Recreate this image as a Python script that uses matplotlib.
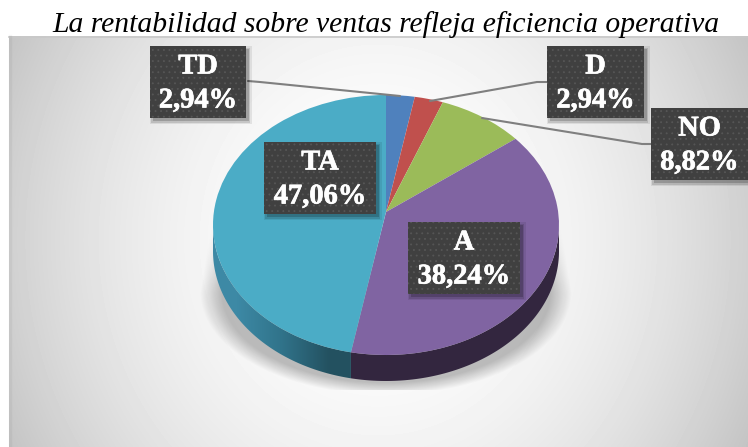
"""Pie chart of profitability answers, redrawn with a tilted 3D look."""
import matplotlib
matplotlib.use("Agg")
import matplotlib.pyplot as plt
import matplotlib.patheffects as pe
import matplotlib.transforms as mtransforms
from matplotlib.patches import Polygon, Rectangle
import numpy as np

title = "La rentabilidad sobre ventas refleja eficiencia operativa"
categories = ["TD", "D", "NO", "A", "TA"]
shares = [2.94, 2.94, 8.82, 38.24, 47.06]
colors = ["#4f81bd", "#c0504d", "#9bbb59", "#8064a2", "#4bacc6"]

# pixel layout of the picture
W, H = 748, 447
CX, CY, RX, RY = 386, 225, 173, 130
DEPTH = 26
TILT = 0.10  # how far the slice apex sits above the ellipse centre
boxes = {"TD": (150, 46, 96, 72), "D": (547, 46, 97, 72), "NO": (651, 108, 97, 72),
         "TA": (264, 142, 112, 72), "A": (408, 222, 112, 72)}
leaders = {"TD": [(248, 81), (260, 82), (400, 96)],
           "D": [(547, 82), (537, 82), (430, 101)],
           "NO": [(651, 144), (642, 144), (482, 118)]}


def tilt_points(pts):
    x, y = pts[:, 0], pts[:, 1]
    den = 1 + TILT * y
    return np.column_stack([x * np.sqrt(1 - TILT ** 2) / den, (y + TILT) / den])


class TiltTransform(mtransforms.Transform):
    """Projective map of the unit circle onto itself, moves the centre up."""
    input_dims = 2
    output_dims = 2

    def transform_non_affine(self, values):
        return tilt_points(np.asarray(values))


fig = plt.figure(figsize=(W / 100, H / 100), dpi=100)
ax = fig.add_axes([0, 0, 1, 1])

# background radial gradient
xx, yy = np.meshgrid(np.arange(9, W) + 0.5, np.arange(36, H) + 0.5)
dist = np.hypot((xx - 378) / 365, (yy - 240) / 400)
bg = 1 - 0.18 * dist ** 2
ax.imshow(bg, extent=(9, W, H, 36), cmap="gray", vmin=0, vmax=1, aspect="auto", zorder=0)
ax.plot([9, W], [36.5, 36.5], color="#c8c8c8", lw=1.2, zorder=1)
ax.plot([10, 10], [36, H], color="#000000", alpha=0.04, lw=2.5, zorder=1)

# soft shadow behind the pie, straight flanks above a rounded bottom
sx, sy = np.meshgrid(np.arange(190, 585) + 0.5, np.arange(210, 390) + 0.5)
half = np.where(sy < 293, 173 + 13 * (sy - 210) / 83, 186)
r = np.hypot((sx - 386) / half, np.clip(sy - 293, 0, None) / 102)
alpha = np.clip((1.0 - r) / 0.12, 0, 1) * np.clip((sy - 215) / 70, 0, 1) * 0.25
rgba = np.zeros(sx.shape + (4,))
rgba[..., 3] = alpha
ax.imshow(rgba, extent=(190, 585, 390, 210), aspect="auto", zorder=1)

# top face, slices start at 12 o'clock and go clockwise
wedges, _ = ax.pie(shares, colors=colors, startangle=90, counterclock=False, radius=1)
face = TiltTransform() + mtransforms.Affine2D().scale(RX, -RY).translate(CX, CY) + ax.transData
for w in wedges:
    w.set_transform(face)
    w.set_zorder(4)
    w.set_linewidth(0)

# side wall, split where the TA/A boundary meets the rim
edge_deg = 90 - 360 * sum(shares[:4]) / sum(shares)
edge = tilt_points(np.array([[np.cos(np.radians(edge_deg)), np.sin(np.radians(edge_deg))]]))[0]
split = np.degrees(np.arctan2(edge[1], edge[0])) % 360


def wall_polygon(t0, t1):
    t = np.radians(np.linspace(t0, t1, 120))
    x = CX + RX * np.cos(t)
    y = CY - RY * np.sin(t)
    return np.vstack([np.column_stack([x, y]), np.column_stack([x, y + DEPTH])[::-1]])


ax.add_patch(Polygon(wall_polygon(split, 360), closed=True, fc="#33263f", ec="none", zorder=3))
ta_wall = Polygon(wall_polygon(180, split), closed=True, fc="none", ec="none", zorder=3)
ax.add_patch(ta_wall)
ramp = np.array([[[0.24, 0.54, 0.65], [0.19, 0.45, 0.54], [0.14, 0.32, 0.38]]])
grad = ax.imshow(ramp, extent=(213, 352, 400, 220), aspect="auto", zorder=3,
                 interpolation="bilinear")
grad.set_clip_path(ta_wall)

# leader lines
for pts in leaders.values():
    ax.plot(*zip(*pts), color="#7f7f7f", lw=1.5, zorder=5, solid_capstyle="round")

# data labels
plt.rcParams["hatch.linewidth"] = 0.6
thicker = [pe.withStroke(linewidth=0.5, foreground="white")]
for name, share in zip(categories, shares):
    bx, by, bw, bh = boxes[name]
    for grow, a in [(4, 0.08), (2.5, 0.12), (1, 0.18)]:
        ax.add_patch(Rectangle((bx + 4 - grow, by + 4 - grow), bw + 2 * grow - 2,
                               bh + 2 * grow - 2, fc="black", ec="none", alpha=a, zorder=6))
    ax.add_patch(Rectangle((bx, by), bw, bh, fc="#404040", ec="#565656", lw=0,
                           hatch="...", zorder=7))
    ax.text(bx + bw / 2, by + 21, name, color="white", fontsize=20.5, fontweight="bold",
            family="Liberation Serif", ha="center", va="center", zorder=8, path_effects=thicker)
    ax.text(bx + bw / 2, by + 55, f"{share:.2f}%".replace(".", ","), color="white",
            fontsize=20.5, fontweight="bold", family="Liberation Serif",
            ha="center", va="center", zorder=8, path_effects=thicker)

ax.text(385.5, 25, title, fontsize=21.3, style="italic", family="Liberation Serif",
        color="black", ha="center", va="center", zorder=8)

ax.set_aspect("auto")
ax.set_xlim(0, W)
ax.set_ylim(H, 0)
ax.axis("off")
fig.savefig("out.png", dpi=100, facecolor="white")
